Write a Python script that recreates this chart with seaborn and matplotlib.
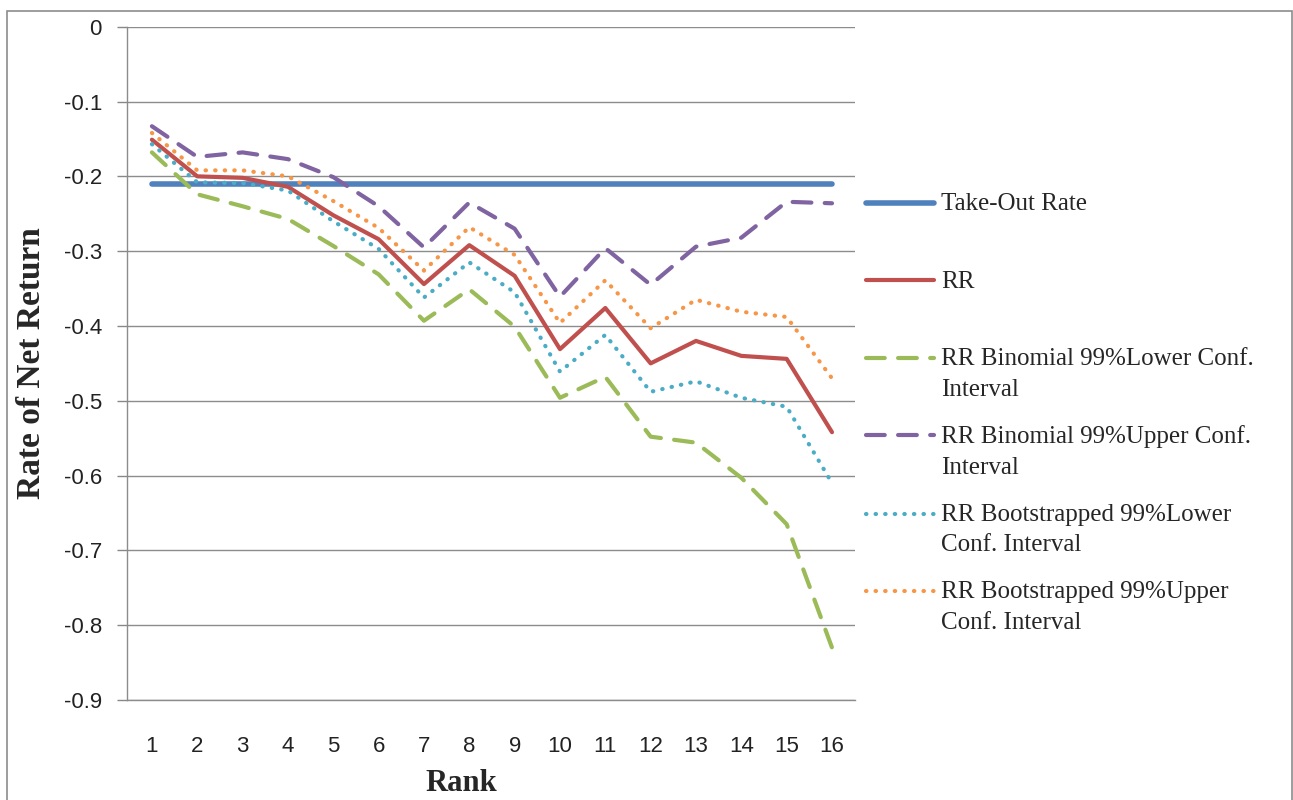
import seaborn as sns
import matplotlib.pyplot as plt
import pandas as pd
from matplotlib.patches import Rectangle

ranks = list(range(1, 17))
take_out = [-0.21] * 16
rr = [-0.151, -0.200, -0.202, -0.214, -0.252, -0.284, -0.344, -0.292,
      -0.333, -0.431, -0.376, -0.450, -0.420, -0.440, -0.444, -0.542]
bin_lower = [-0.168, -0.224, -0.240, -0.257, -0.293, -0.331, -0.393, -0.351,
             -0.401, -0.496, -0.468, -0.548, -0.556, -0.603, -0.665, -0.830]
bin_upper = [-0.133, -0.174, -0.168, -0.177, -0.201, -0.240, -0.295, -0.235,
             -0.270, -0.361, -0.296, -0.345, -0.294, -0.282, -0.234, -0.236]
boot_lower = [-0.157, -0.208, -0.209, -0.219, -0.260, -0.297, -0.362, -0.315,
              -0.355, -0.461, -0.412, -0.488, -0.474, -0.496, -0.508, -0.610]
boot_upper = [-0.142, -0.192, -0.192, -0.200, -0.233, -0.269, -0.326, -0.268,
              -0.305, -0.396, -0.339, -0.403, -0.365, -0.381, -0.388, -0.470]

labels = ["Take-Out Rate", "RR",
          "RR Binomial 99%Lower Conf.\nInterval",
          "RR Binomial 99%Upper Conf.\nInterval",
          "RR Bootstrapped 99%Lower\nConf. Interval",
          "RR Bootstrapped 99%Upper\nConf. Interval"]
series = [take_out, rr, bin_lower, bin_upper, boot_lower, boot_upper]
colors = ["#4F81BD", "#C0504D", "#9BBB59", "#8064A2", "#4BACC6", "#F79646"]
styles = ["-", "-", (0, (4.5, 3.2)), (0, (4.5, 3.2)), (0, (0.1, 2.2)), (0, (0.1, 2.2))]
widths = [4, 3, 3, 3, 3, 3]

sns.set_style("white")
plt.rcParams['axes.unicode_minus'] = False

fig = plt.figure(figsize=(12.93, 8), dpi=100)
ax = fig.add_axes([0.0982, 0.125, 0.5628, 0.8416])

for lab, vals, c, ls, lw in zip(labels, series, colors, styles, widths):
    df = pd.DataFrame({"Rank": ranks, "value": vals})
    # pad single-line labels so every legend entry takes two lines
    lab2 = lab if "\n" in lab else lab + "\n "
    sns.lineplot(data=df, x="Rank", y="value", ax=ax, color=c, linestyle=ls,
                 linewidth=lw, label=lab2, dash_capstyle="round",
                 solid_capstyle="round")

ax.set_xlim(0.45, 16.5)
ax.set_ylim(-0.9, 0)
yt = [-0.1 * i for i in range(10)]
ax.set_yticks(yt)
ax.set_yticklabels(["0"] + ["-0.%d" % i for i in range(1, 10)],
                   fontsize=16, family="Liberation Sans", color="#222222")
ax.set_xticks(ranks)
ax.set_xticklabels([str(r) for r in ranks], fontsize=16,
                   family="Liberation Sans", color="#222222")
ax.tick_params(axis="y", length=7, width=1, color="#888888", pad=11, left=True)
ax.tick_params(axis="x", length=0, pad=26)
ax.yaxis.grid(True, color="#8c8c8c", linewidth=1)
ax.xaxis.grid(False)
for s in ["top", "right"]:
    ax.spines[s].set_visible(False)
for s in ["left", "bottom"]:
    ax.spines[s].set_color("#8c8c8c")
    ax.spines[s].set_linewidth(1)

ax.set_xlabel("Rank", fontsize=22, fontweight="bold", family="Liberation Serif")
ax.xaxis.set_label_coords(0.459, -0.103)
ax.set_ylabel("Rate of Net Return", fontsize=24, fontweight="bold",
              family="Liberation Serif")
ax.yaxis.set_label_coords(-0.110, 0.501)

leg = ax.legend(loc="upper left", bbox_to_anchor=(866 / 1293, 1 - 193 / 800),
                bbox_transform=fig.transFigure, frameon=False,
                prop={"family": "Liberation Serif", "size": 18},
                handlelength=2.7, handleheight=1.0, handletextpad=0.3,
                labelspacing=1.0, borderpad=0, borderaxespad=0)
for t in leg.get_texts():
    t.set_linespacing(1.5)
# put the line sample next to the first line of each label
for col in leg._legend_handle_box.get_children():
    for row in col.get_children():
        row.align = "top"

fig.patches.append(Rectangle((7 / 1293, -0.05), 1285 / 1293, 1.05 - 11 / 800,
                             transform=fig.transFigure, fill=False,
                             edgecolor="#8c8c8c", linewidth=1.2))

plt.savefig("out.png", dpi=100)
